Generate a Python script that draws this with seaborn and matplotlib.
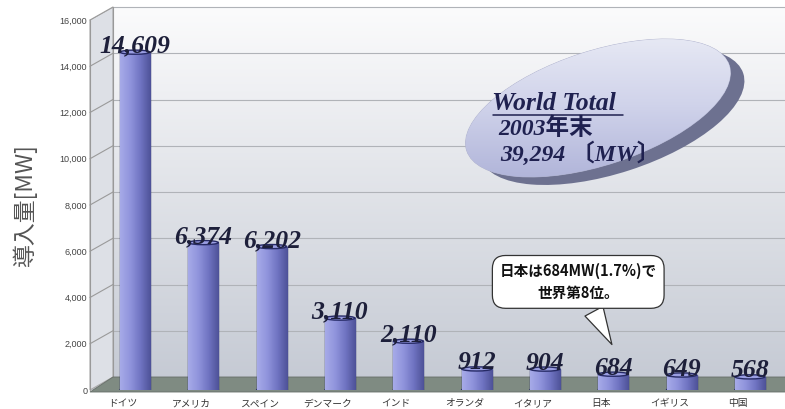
import numpy as np
import pandas as pd
import seaborn as sns
import matplotlib.pyplot as plt
from matplotlib.patches import Ellipse, Polygon
from matplotlib.lines import Line2D
from matplotlib.transforms import ScaledTranslation

countries = ["ドイツ", "アメリカ", "スペイン", "デンマーク", "インド",
             "オランダ", "イタリア", "日本", "イギリス", "中国"]
capacity_mw = [14609, 6374, 6202, 3110, 2110, 912, 904, 684, 649, 568]
y_ticks = [0, 2000, 4000, 6000, 8000, 10000, 12000, 14000, 16000]
world_total = "39,294"
japan_note = "日本は684MW(1.7%)で\n世界第8位。"

sns.set_theme(style="white")
plt.rcParams["font.family"] = ["Noto Sans CJK JP", "DejaVu Sans"]

W, H, DPI = 785, 409, 100
fig = plt.figure(figsize=(W / DPI, H / DPI), dpi=DPI)
ax = fig.add_axes([90 / W, 19 / H, 694 / W, 370 / H])
ax.set_facecolor("none")
for s in ax.spines.values():
    s.set_visible(False)

df = pd.DataFrame({"country": countries, "mw": capacity_mw})
sns.barplot(data=df, x="country", y="mw", ax=ax, width=0.44, color="#8185cf",
            edgecolor="#262a66", linewidth=1.0, zorder=3)
ax.set_xlim(-0.66, 9.5)
ax.set_ylim(0, 16000)

# depth of the 3d frame in pixels
DX, DY = 23, 13

def px(y):
    return ax.transData.transform((0, y))[1]

x0 = ax.transAxes.transform((0, 0))[0]
x1 = W + 5
y0, y16 = px(0), px(16000)

# back wall gradient
grad = np.linspace(0, 1, 256).reshape(-1, 1)
bg = fig.add_axes([0, 0, 1, 1], zorder=-2)
bg.set_axis_off()
bg.set_xlim(0, W)
bg.set_ylim(0, H)
bg.imshow(grad, cmap=sns.blend_palette(["#c4c9d3", "#fbfbfc"], as_cmap=True),
          extent=[x0, x1, y0, y16 + DY], origin="lower", aspect="auto", zorder=0)
# left wall
bg.add_patch(Polygon([[x0, y0], [x0 + DX, y0 + DY], [x0 + DX, y16 + DY], [x0, y16]],
                     closed=True, facecolor="#dde0e6", edgecolor="#aaaaaa", lw=0.8, zorder=1))
# white cover above the frame
bg.add_patch(Polygon([[x0, y16], [x0 + DX, y16 + DY], [x1, y16 + DY], [x1, H], [x0, H]],
                     closed=True, facecolor="white", edgecolor="none", zorder=1))
# floor
bg.add_patch(Polygon([[x0, y0 - 2], [x0 + DX, y0 + DY], [x1, y0 + DY], [x1, y0 - 2]],
                     closed=True, facecolor="#7f8b82", edgecolor="#666e68", lw=0.6, zorder=2))
# gridlines on back wall + tick connectors
for v in y_ticks[1:]:
    yy = px(v)
    bg.add_line(Line2D([x0 + DX, x1], [yy + DY, yy + DY], color="#b0b3b8", lw=0.8, zorder=1.5))
    bg.add_line(Line2D([x0, x0 + DX], [yy, yy + DY], color="#9a9a9a", lw=0.8, zorder=1.5))
bg.add_line(Line2D([x0 + DX, x0 + DX], [y0 + DY, y16 + DY], color="#999999", lw=0.8, zorder=1.5))
bg.add_line(Line2D([x0, x0], [y0, y16], color="#999999", lw=0.8, zorder=3))

# cylinder shading
shade = sns.blend_palette(["#a6aae8", "#9094dc", "#7074c2", "#4e5298"], as_cmap=True)
hgrad = np.linspace(0, 1, 64).reshape(1, -1)
for bar in ax.patches:
    xl, w, h = bar.get_x(), bar.get_width(), bar.get_height()
    im = ax.imshow(hgrad, cmap=shade, extent=[xl, xl + w, 0, h], aspect="auto",
                   origin="lower", zorder=3.5)
    im.set_clip_path(bar)
    ax.add_patch(Ellipse((xl + w / 2, h), w, 180, facecolor="#9a9ee2",
                         edgecolor="#262a66", lw=1.0, zorder=4))
    ax.add_patch(Ellipse((xl + w / 2, 0), w, 180, facecolor="#6a6eb8",
                         edgecolor="#262a66", lw=1.0, zorder=3.2))

# value labels
for i, v in enumerate(capacity_mw):
    ax.annotate(f"{v:,}", (i, v), xytext=(0, -4), textcoords="offset points",
                ha="center", va="bottom", fontsize=18.5, fontweight="bold",
                fontstyle="italic", family="Liberation Serif", color="#1d1f3a", zorder=6)

ax.set_yticks(y_ticks)
ax.set_yticklabels([f"{v:,}" for v in y_ticks], fontsize=6.5, color="#444444",
                   family="Liberation Sans")
ax.tick_params(axis="y", length=0, pad=2)
ax.tick_params(axis="x", length=0, pad=6, labelsize=7, labelcolor="#333333")
for lab in ax.get_xticklabels():
    lab.set_transform(lab.get_transform() + ScaledTranslation(-12 / DPI, 0, fig.dpi_scale_trans))
ax.set_xlabel("")
ax.set_ylabel("導入量[MW]", fontsize=16.5, color="#555555", labelpad=16)

# world total disc
bg.add_patch(Ellipse((612, H - 116), 276, 114, angle=18, facecolor="#6d7190",
                     edgecolor="none", zorder=7))
disc = Ellipse((598, H - 108), 276, 114, angle=18, facecolor="#c9cce6",
               edgecolor="#aeb1cc", lw=0.6, zorder=8)
bg.add_patch(disc)
dgrad = np.linspace(0, 1, 128).reshape(-1, 1)
dim = bg.imshow(dgrad, cmap=sns.blend_palette(["#aeb2d8", "#cfd2ea", "#e9ebf5"], as_cmap=True),
                extent=[455, 745, H - 185, H - 30], origin="lower", aspect="auto", zorder=8.5)
dim.set_clip_path(disc)
serif_bi = dict(family=["Liberation Serif", "Noto Sans CJK JP"], fontstyle="italic",
                color="#1f2150", zorder=9, va="center", ha="left")
bg.text(492, H - 103, "World Total", fontsize=18.5, fontweight="bold", **serif_bi)
bg.add_line(Line2D([493, 623], [H - 115, H - 115], color="#1f2150", lw=1.1, zorder=9))
bg.text(498, H - 129, "2003年末", fontsize=17, fontweight="bold", **serif_bi)
bg.text(500, H - 154, world_total + " 〔MW〕", fontsize=17, fontweight="bold", **serif_bi)

# callout for Japan
ax.annotate(japan_note, (7.0, 1860), xytext=(-35, 65), textcoords="offset pixels",
            ha="center", va="center", fontsize=10.5, fontweight="bold", color="#111111",
            linespacing=1.45, zorder=10,
            bbox=dict(boxstyle="round,pad=0.5,rounding_size=0.9", fc="white",
                      ec="#333333", lw=0.9),
            arrowprops=dict(arrowstyle="wedge,tail_width=1.4,shrink_factor=0.5",
                            fc="white", ec="#333333", lw=0.9))

fig.savefig("out.png", dpi=DPI)
